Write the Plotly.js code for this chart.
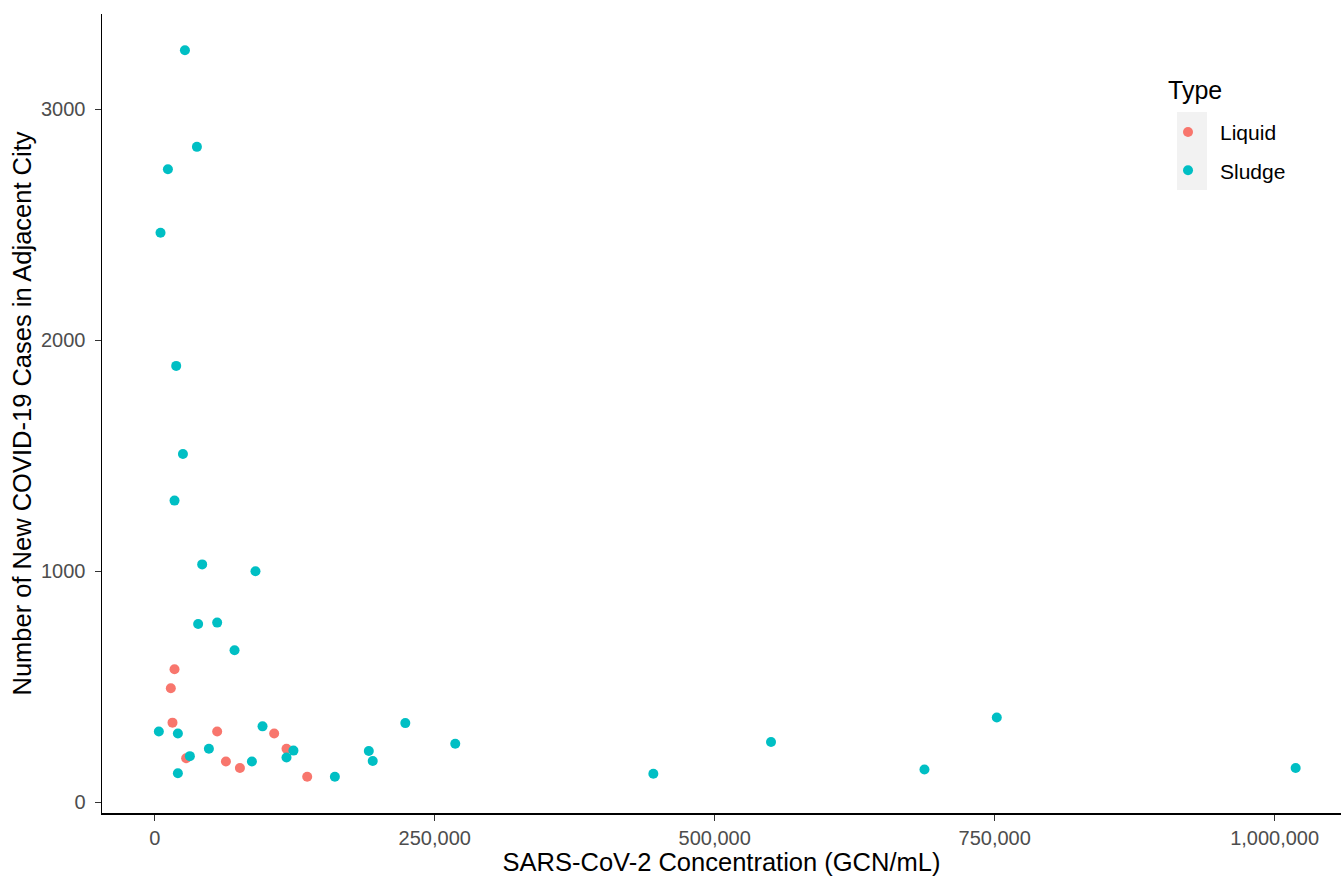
<!DOCTYPE html>
<html>
<head>
<meta charset="utf-8">
<script src="https://cdn.plot.ly/plotly-3.0.1.min.js"></script>
<style>html,body{margin:0;padding:0;background:#fff;}#chart{width:1341px;height:876px;}</style>
</head>
<body>
<div id="chart"></div>
<script>
// Liquid samples: concentration (GCN/mL) and new cases
const liquidConc  = [17600, 14300, 15800, 55700, 106600, 117600, 28000, 63500, 76000, 136100];
const liquidCases = [576, 494, 345, 307, 298, 232, 191, 177, 149, 111];

// Sludge samples
const sludgeConc  = [26900, 37600, 11700, 5100, 19100, 25100, 17600, 42300, 89900, 38700, 55700, 71200,
                     3600, 20600, 96200, 48300, 123800, 117600, 31300, 86700, 20600, 160800,
                     223700, 191100, 194600, 268300, 445200, 550300, 687300, 751900, 1018800];
const sludgeCases = [3255, 2837, 2740, 2465, 1889, 1508, 1306, 1030, 1000, 772, 778, 658,
                     307, 298, 329, 232, 224, 194, 200, 177, 126, 111,
                     343, 222, 179, 254, 124, 261, 142, 367, 149];

const xTickVals = [0, 250000, 500000, 750000, 1000000];
const xTickText = ["0", "250,000", "500,000", "750,000", "1,000,000"];
const yTickVals = [0, 1000, 2000, 3000];

const FONT = "Liberation Sans, Arial, sans-serif";

const traces = [
  {x: liquidConc, y: liquidCases, name: "Liquid", legendgroup: "liquid", type: "scatter", mode: "markers",
   marker: {color: "#F8766D", size: 10}},
  {x: sludgeConc, y: sludgeCases, name: "Sludge", legendgroup: "sludge", type: "scatter", mode: "markers",
   marker: {color: "#00BFC4", size: 10}}
];

const layout = {
  width: 1341, height: 876,
  margin: {l: 102, r: 0, t: 14, b: 63, pad: 0},
  paper_bgcolor: "#fff", plot_bgcolor: "#fff",
  font: {family: FONT, color: "#000"},
  xaxis: {
    range: [-47160, 1059290],
    tickvals: xTickVals, ticktext: xTickText,
    showgrid: false, zeroline: false,
    showline: true, linecolor: "#000", linewidth: 1.5,
    ticks: "outside", ticklen: 6, tickcolor: "#333", tickwidth: 1.3,
    tickfont: {family: FONT, size: 20, color: "#4d4d4d"},
    title: {text: "SARS-CoV-2 Concentration (GCN/mL)", font: {family: FONT, size: 25.5, color: "#000"}, standoff: 4}
  },
  yaxis: {
    range: [-46, 3412],
    tickvals: yTickVals,
    showgrid: false, zeroline: false,
    showline: true, linecolor: "#000", linewidth: 1.5,
    ticks: "outside", ticklen: 6, tickcolor: "#333", tickwidth: 1.3,
    ticklabelstandoff: 5,
    tickfont: {family: FONT, size: 20, color: "#4d4d4d"},
    title: {text: "Number of New COVID-19 Cases in Adjacent City", font: {family: FONT, size: 25.5, color: "#000"}, standoff: 2}
  },
  showlegend: true,
  legend: {
    x: 0.8507, y: 0.8775, xanchor: "left", yanchor: "top",
    bgcolor: "rgba(0,0,0,0)",
    font: {family: FONT, size: 21, color: "#000"},
    itemwidth: 54, tracegroupgap: 8, traceorder: "grouped"
  },
  annotations: [{
    text: "Type", xref: "paper", yref: "paper",
    x: (1166 - 102) / 1239, y: (813 - 90) / 799, xanchor: "left", yanchor: "middle",
    showarrow: false, font: {family: FONT, size: 25, color: "#000"}
  }],
  shapes: [{
    type: "rect", xref: "paper", yref: "paper", layer: "below",
    x0: (1177 - 102) / 1239, x1: (1207 - 102) / 1239,
    y0: (813 - 190) / 799, y1: (813 - 112) / 799,
    fillcolor: "#f2f2f2", line: {width: 0}
  }]
};

Plotly.newPlot("chart", traces, layout, {displayModeBar: false, staticPlot: true});
</script>
</body>
</html>
